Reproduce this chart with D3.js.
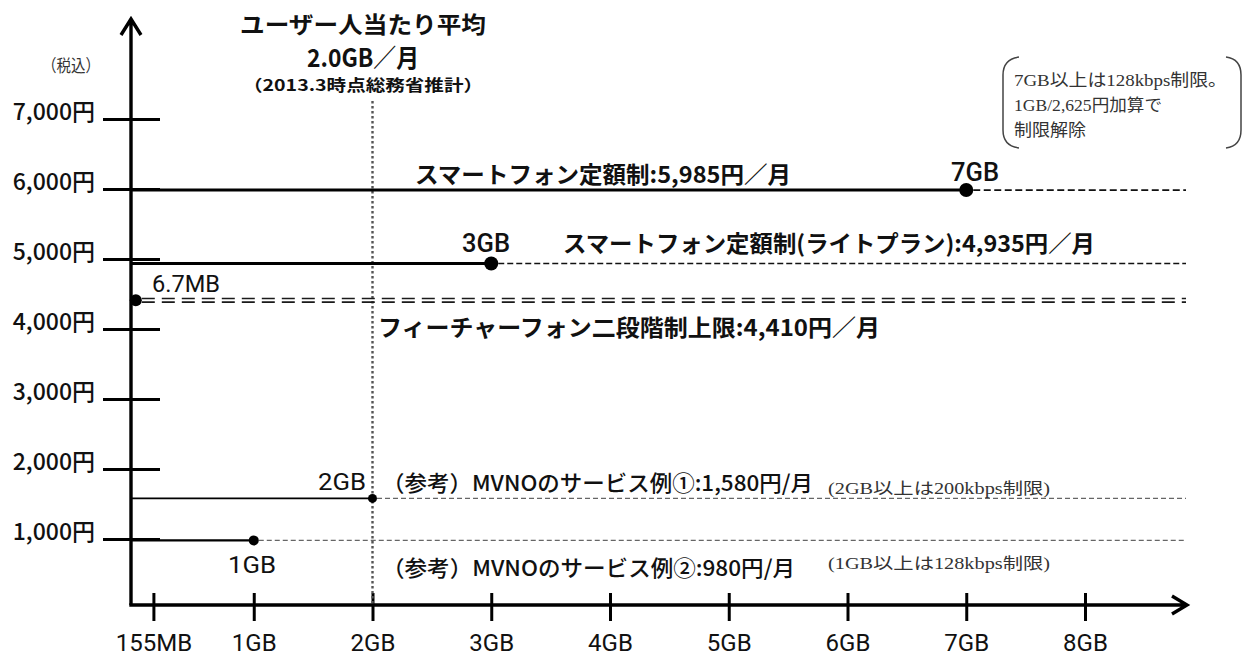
<!DOCTYPE html>
<html>
<head>
<meta charset="utf-8">
<script src="https://cdn.jsdelivr.net/npm/d3@7"></script>
<style>
  html, body { margin: 0; padding: 0; background: #fff; }
  svg { display: block; }
</style>
</head>
<body>
<script>
// ---- data ----------------------------------------------------------
const xTickValues = [0.155, 1, 2, 3, 4, 5, 6, 7, 8];           // GB
const xTickLabels = ["155MB", "1GB", "2GB", "3GB", "4GB", "5GB", "6GB", "7GB", "8GB"];
const yTickValues = [1000, 2000, 3000, 4000, 5000, 6000, 7000]; // yen
const yTickLabels = ["1,000円", "2,000円", "3,000円", "4,000円", "5,000円", "6,000円", "7,000円"];

const planNames = [
  "スマートフォン定額制",
  "スマートフォン定額制(ライトプラン)",
  "フィーチャーフォン二段階制上限",
  "（参考）MVNOのサービス例①",
  "（参考）MVNOのサービス例②"
];
const planPrices = [5985, 4935, 4410, 1580, 980];      // yen / month
const planCapsGB = [7, 3, 0.0067, 2, 1];                // data allowance
const planCapLabels = ["7GB", "3GB", "6.7MB", "2GB", "1GB"];
const planNotes = ["", "", "", "(2GB以上は200kbps制限)", "(1GB以上は128kbps制限)"];

const averageUsageGB = 2.0;
const averageSource = "（2013.3時点総務省推計）";
const unitLabel = "（税込）";
const overageNote = ["7GB以上は128kbps制限。", "1GB/2,625円加算で", "制限解除"];

// ---- layout & styles -------------------------------------------------
const W = 1244, H = 657;
const axisX = 131, axisY = 605, axisTop = 19, axisRight = 1187, lineEnd = 1186;
const JP = "'Noto Sans CJK JP', 'Noto Sans', sans-serif";
const SERIF = "'Liberation Serif', 'DejaVu Serif', 'Noto Sans CJK JP', serif";
const NUM = "Roboto, 'Noto Sans', sans-serif";

const planStyles = [
  { solidW: 3,   dotR: 7,   ext: "single", extColor: "#111", extW: 1.7, extDash: "7,3.5",
    label: { x: 415, y: 173, w: 376, size: 23, weight: 700, slash: "／" },
    cap: { x: 975, y: 172, anchor: "middle", size: 25, weight: 500, w: 48 } },
  { solidW: 3,   dotR: 7,   ext: "single", extColor: "#111", extW: 1.6, extDash: "6,3",
    label: { x: 563, y: 242, w: 532, size: 23, weight: 700, slash: "／" },
    cap: { x: 486, y: 243, anchor: "middle", size: 25, weight: 500, w: 48 } },
  { solidW: 0,   dotR: 6,   ext: "double", extColor: "#1a1a1a", extW: 1.7, extDash: "13,7",
    label: { x: 378, y: 326, w: 502, size: 23, weight: 700, slash: "／" },
    cap: { x: 152, y: 284, anchor: "start", size: 23, weight: 400, w: 68 } },
  { solidW: 1.8, dotR: 4.5, ext: "single", extColor: "#666", extW: 1.4, extDash: "5,3",
    label: { x: 382, y: 481, w: 431, size: 22, weight: 500, slash: "/" },
    cap: { x: 366, y: 482, anchor: "end", size: 23, weight: 400, w: 48 },
    note: { x: 828, y: 488, w: 222 } },
  { solidW: 2.4, dotR: 5,   ext: "single", extColor: "#666", extW: 1.4, extDash: "5,3",
    label: { x: 382, y: 566, w: 413, size: 22, weight: 500, slash: "/" },
    cap: { x: 252, y: 565, anchor: "middle", size: 23, weight: 400, w: 48 },
    note: { x: 828, y: 563, w: 222 } }
];

// ---- scales ----------------------------------------------------------
const x = d3.scaleLinear().domain([0, 8]).range([135, 1085]);
const y = d3.scaleLinear().domain([0, 7000]).range([609, 119]);
const yen = d3.format(",");

const svg = d3.select("body").append("svg")
  .attr("width", W).attr("height", H)
  .style("background", "#fff");

// ---- axes ------------------------------------------------------------
const xAxis = svg.append("g")
  .attr("transform", `translate(0,${axisY})`)
  .call(d3.axisBottom(x).tickValues(xTickValues)
    .tickFormat((d, i) => xTickLabels[i]).tickSize(16).tickPadding(0));
xAxis.select(".domain").remove();
xAxis.selectAll(".tick line").attr("y1", -12).attr("stroke", "#000").attr("stroke-width", 3);
xAxis.selectAll(".tick text")
  .attr("y", 46).attr("dy", 0)
  .style("font-family", NUM).style("font-size", "24px").style("font-weight", 400)
  .attr("fill", "#111");

const yAxis = svg.append("g")
  .attr("transform", `translate(${axisX},0)`)
  .call(d3.axisLeft(y).tickValues(yTickValues)
    .tickFormat((d, i) => yTickLabels[i]).tickSize(28).tickPadding(8));
yAxis.select(".domain").remove();
yAxis.selectAll(".tick line").attr("x1", 29).attr("stroke", "#000").attr("stroke-width", 3.2);
yAxis.selectAll(".tick text")
  .attr("dy", "0.02em")
  .style("font-family", JP).style("font-size", "23px").style("font-weight", 500)
  .attr("fill", "#111");

// axis lines with open arrow heads
svg.append("path")
  .attr("d", `M${axisX},${axisY} V${axisTop} M${axisX - 10},${axisTop + 16} L${axisX},${axisTop} L${axisX + 10},${axisTop + 16}`)
  .attr("fill", "none").attr("stroke", "#000").attr("stroke-width", 3.4)
  .attr("stroke-linejoin", "miter");
svg.append("path")
  .attr("d", `M${axisX - 1.7},${axisY} H${axisRight} M${axisRight - 15},${axisY - 9} L${axisRight},${axisY} L${axisRight - 15},${axisY + 9}`)
  .attr("fill", "none").attr("stroke", "#000").attr("stroke-width", 3.4);

svg.append("text")
  .attr("x", 71).attr("y", 64)
  .attr("text-anchor", "middle").attr("dominant-baseline", "central")
  .attr("textLength", 58).attr("lengthAdjust", "spacingAndGlyphs")
  .style("font-family", JP).style("font-size", "17px")
  .attr("fill", "#333").text(unitLabel);

// ---- average usage marker -------------------------------------------
svg.append("line")
  .attr("x1", x(averageUsageGB)).attr("x2", x(averageUsageGB))
  .attr("y1", 101).attr("y2", axisY)
  .attr("stroke", "#555").attr("stroke-width", 2.4)
  .attr("stroke-dasharray", "2.5,2.5");

const titleX = 363;
const titleLines = [
  { text: "ユーザー人当たり平均", y: 23, size: 23, w: 246 },
  { text: `${averageUsageGB.toFixed(1)}GB／月`, y: 56, size: 25, w: 112 },
  { text: averageSource, y: 84, size: 16, w: 240 }
];
svg.selectAll("text.title").data(titleLines).join("text")
  .attr("class", "title")
  .attr("x", titleX).attr("y", d => d.y)
  .attr("text-anchor", "middle").attr("dominant-baseline", "central")
  .attr("textLength", d => d.w).attr("lengthAdjust", "spacingAndGlyphs")
  .style("font-family", JP).style("font-size", d => d.size + "px").style("font-weight", 700)
  .attr("fill", "#111").text(d => d.text);

// ---- plans -----------------------------------------------------------
const plans = planNames.map((name, i) => ({
  name, price: planPrices[i], cap: planCapsGB[i],
  capLabel: planCapLabels[i], note: planNotes[i], s: planStyles[i]
}));

const g = svg.append("g");

// extension beyond the allowance
plans.forEach(p => {
  const yy = y(p.price);
  const offsets = p.s.ext === "double" ? [-1.8, 1.8] : [0];
  offsets.forEach(o => {
    g.append("line")
      .attr("x1", x(p.cap) + p.s.dotR).attr("x2", lineEnd)
      .attr("y1", yy + o).attr("y2", yy + o)
      .attr("stroke", p.s.extColor).attr("stroke-width", p.s.extW)
      .attr("stroke-dasharray", p.s.extDash);
  });
});

// flat-rate segment up to the allowance
g.selectAll("line.solid").data(plans.filter(p => p.s.solidW > 0)).join("line")
  .attr("class", "solid")
  .attr("x1", axisX).attr("x2", d => x(d.cap))
  .attr("y1", d => y(d.price)).attr("y2", d => y(d.price))
  .attr("stroke", "#000").attr("stroke-width", d => d.s.solidW);

g.selectAll("circle.cap").data(plans).join("circle")
  .attr("class", "cap")
  .attr("cx", d => x(d.cap)).attr("cy", d => y(d.price))
  .attr("r", d => d.s.dotR).attr("fill", "#000");

// allowance labels
g.selectAll("text.capLabel").data(plans).join("text")
  .attr("class", "capLabel")
  .attr("x", d => d.s.cap.x).attr("y", d => d.s.cap.y)
  .attr("text-anchor", d => d.s.cap.anchor).attr("dominant-baseline", "central")
  .attr("textLength", d => d.s.cap.w).attr("lengthAdjust", "spacingAndGlyphs")
  .style("font-family", NUM)
  .style("font-size", d => d.s.cap.size + "px").style("font-weight", d => d.s.cap.weight)
  .attr("fill", "#111").text(d => d.capLabel);

// plan name and monthly price
g.selectAll("text.planLabel").data(plans).join("text")
  .attr("class", "planLabel")
  .attr("x", d => d.s.label.x).attr("y", d => d.s.label.y)
  .attr("dominant-baseline", "central")
  .attr("textLength", d => d.s.label.w).attr("lengthAdjust", "spacingAndGlyphs")
  .style("font-family", JP)
  .style("font-size", d => d.s.label.size + "px").style("font-weight", d => d.s.label.weight)
  .attr("fill", "#111")
  .text(d => `${d.name}:${yen(d.price)}円${d.s.label.slash}月`);

// throttling notes
g.selectAll("text.note").data(plans.filter(p => p.note)).join("text")
  .attr("class", "note")
  .attr("x", d => d.s.note.x).attr("y", d => d.s.note.y)
  .attr("dominant-baseline", "central")
  .attr("textLength", d => d.s.note.w).attr("lengthAdjust", "spacingAndGlyphs")
  .style("font-family", SERIF).style("font-size", "16px")
  .attr("fill", "#333").text(d => d.note);

// ---- bracketed overage note -----------------------------------------
svg.append("path")
  .attr("d", "M1019,57 Q1003,59 1003,75 L1003,130 Q1003,146 1019,148")
  .attr("fill", "none").attr("stroke", "#444").attr("stroke-width", 1.5);
svg.append("path")
  .attr("d", "M1226,57 Q1241,59 1241,75 L1241,130 Q1241,146 1226,148")
  .attr("fill", "none").attr("stroke", "#444").attr("stroke-width", 1.5);
const noteWidths = [213, 148, 72];
svg.selectAll("text.overage").data(overageNote).join("text")
  .attr("class", "overage")
  .attr("x", 1014).attr("y", (d, i) => 80 + i * 25)
  .attr("dominant-baseline", "central")
  .attr("textLength", (d, i) => noteWidths[i]).attr("lengthAdjust", "spacingAndGlyphs")
  .style("font-family", SERIF).style("font-size", "17px")
  .attr("fill", "#333").text(d => d);
</script>
</body>
</html>
